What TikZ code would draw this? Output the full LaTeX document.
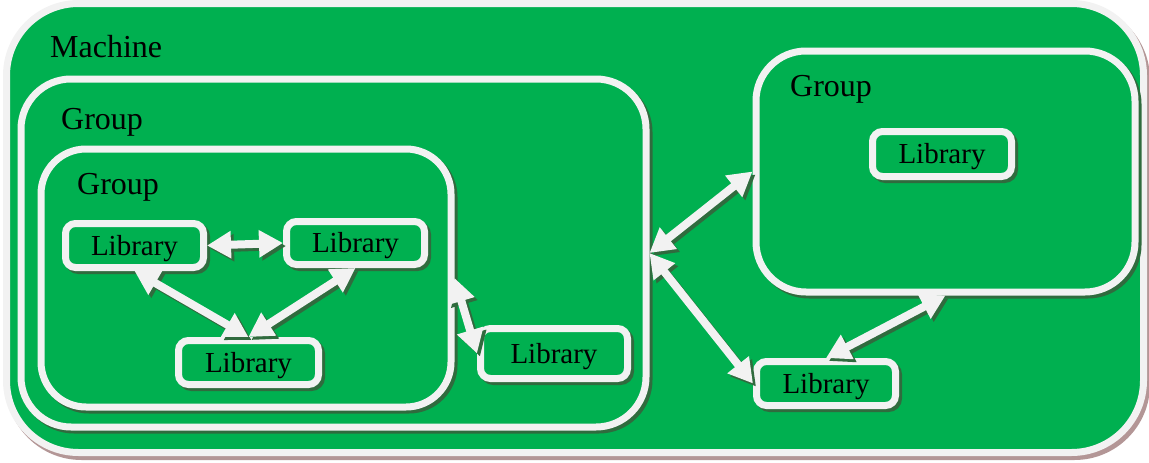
\documentclass[tikz,border=0pt]{standalone}
\usepackage{fontspec}
\setmainfont{Liberation Serif}
\usetikzlibrary{arrows.meta}
\definecolor{bggreen}{HTML}{00B050}
\definecolor{edgewhite}{HTML}{F2F2F2}
\definecolor{shgreen}{HTML}{306B3E}
\definecolor{shpink}{HTML}{B39696}
\tikzset{
  boxbase/.style={draw=edgewhite, fill=bggreen, line width=7pt, inner sep=0pt,
    rounded corners=#1},
  greenshadow/.style={preaction={draw=shgreen, line width=7pt,
    transform canvas={shift={(3pt,-3pt)}}}},
  pinkshadow/.style={preaction={draw=shpink, line width=7pt,
    transform canvas={shift={(3pt,-4pt)}}}},
  machinebox/.style={boxbase=72pt, pinkshadow},
  groupbox/.style={boxbase=#1, greenshadow},
  libbox/.style={boxbase=10pt, greenshadow, font=\fontsize{29}{32}\selectfont,
    text height=19pt, text depth=0pt},
  titletext/.style={anchor=base west, inner sep=0pt, font=\fontsize{32}{36}\selectfont},
  biarrow/.style={draw=edgewhite, line width=8pt,
    {Triangle[width=26pt,length=24pt]}-{Triangle[width=26pt,length=24pt]},
    preaction={draw=shgreen, line width=8pt,
      {Triangle[width=26pt,length=24pt]}-{Triangle[width=26pt,length=24pt]},
      transform canvas={shift={(3pt,-3pt)}}}}
}
\begin{document}
\begin{tikzpicture}[x=1pt, y=-1pt]
\useasboundingbox (0,0) rectangle (1149,463);
% machine
\node[machinebox, minimum width=1137pt, minimum height=449pt] (machine) at (575,228) {};
\node[titletext] (machinelabel) at (50,57) {Machine};
% groups
\node[groupbox=50pt, minimum width=625pt, minimum height=348pt] (g1) at (333.5,253) {};
\node[titletext] (g1label) at (61,129) {Group};
\node[groupbox=45pt, minimum width=410pt, minimum height=258pt] (g2) at (246,278) {};
\node[titletext] (g2label) at (77,194) {Group};
\node[groupbox=50pt, minimum width=379pt, minimum height=241pt] (g3) at (945.5,171.5) {};
\node[titletext] (g3label) at (790,96) {Group};
% libraries
\node[libbox, minimum width=138pt, minimum height=44pt] (l1) at (134.5,245.5) {Library};
\node[libbox, minimum width=138pt, minimum height=43pt] (l2) at (355.5,243) {Library};
\node[libbox, minimum width=140pt, minimum height=44pt] (l3) at (248.5,362.5) {Library};
\node[libbox, minimum width=147pt, minimum height=50pt] (l4) at (554,353.5) {Library};
\node[libbox, minimum width=139pt, minimum height=45pt] (l5) at (942,154) {Library};
\node[libbox, minimum width=139pt, minimum height=44pt] (l6) at (826,383.5) {Library};
% connectors
\draw[biarrow] (l1.east) -- (l2.west);
\draw[biarrow] (l1.south) -- (l3.north);
\draw[biarrow] (l2.south) -- (l3.north);
\draw[biarrow] (g2.east) -- (l4.west);
\draw[biarrow] (g1.east) -- (g3.west);
\draw[biarrow] (g1.east) -- (l6.west);
\draw[biarrow] (g3.south) -- (l6.north);
\end{tikzpicture}
\end{document}
